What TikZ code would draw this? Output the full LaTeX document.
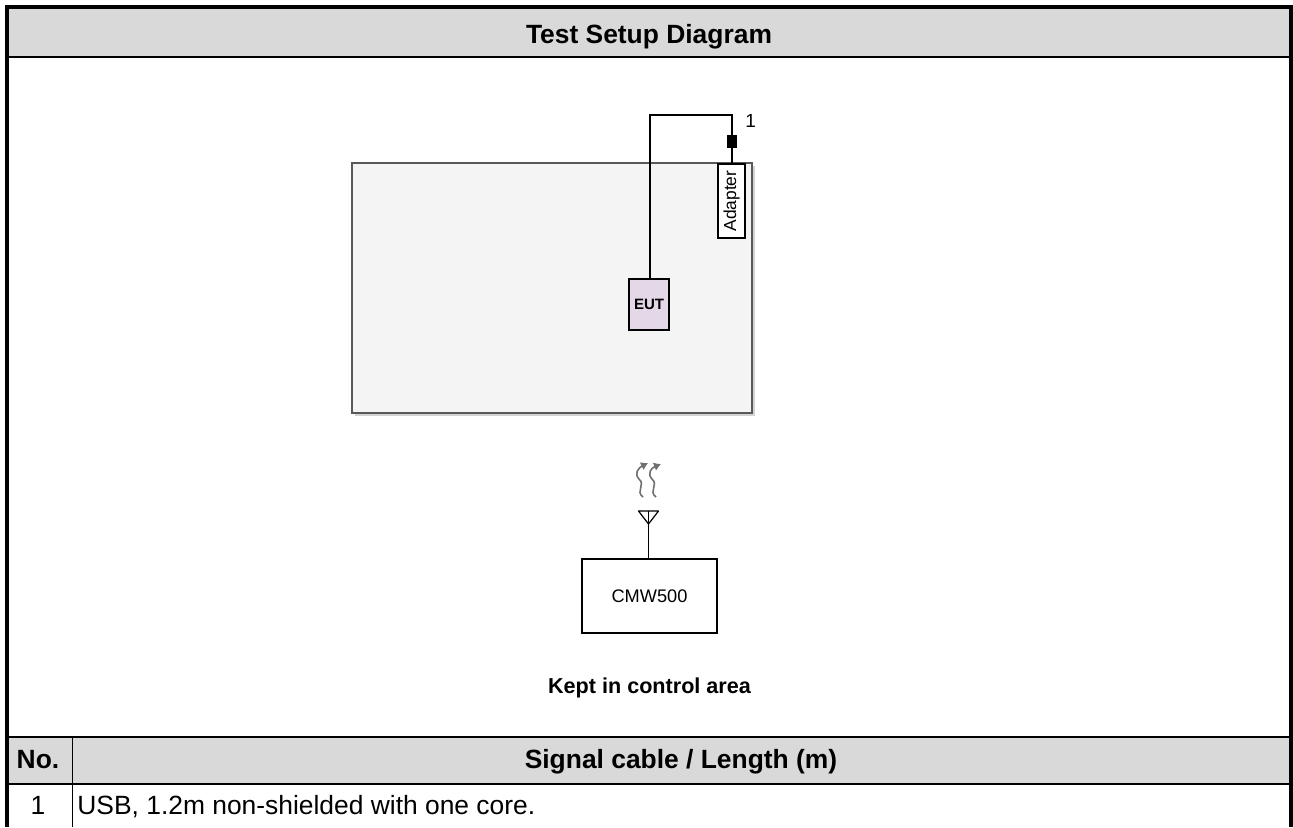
\documentclass[tikz,border=0pt]{standalone}
\usepackage{fontspec}
\setmainfont{Liberation Sans}
\usetikzlibrary{positioning,shadows,arrows.meta}
\tikzset{>=latex}
\definecolor{hdr}{HTML}{D9D9D9}
\definecolor{room}{HTML}{F4F4F4}
\definecolor{eutfill}{HTML}{E4D7E8}
\definecolor{wave}{HTML}{707070}
\newcommand{\tabfont}{\fontsize{13.2}{15}\selectfont}
\tikzstyle{device}=[draw,line width=0.6pt,inner sep=0pt]
\tikzstyle{cable}=[line width=0.6pt]
\tikzstyle{radio}=[wave,line width=0.8pt,-{Latex[length=3.5pt,width=4.5pt]}]

\begin{document}
\begin{tikzpicture}[x=0.5pt,y=-0.5pt]
  \useasboundingbox (0,0) rectangle (1293,827);
  % frame and table
  \fill[hdr] (9,9) rectangle (1289,56);
  \fill[hdr] (9,738) rectangle (1289,783);
  \draw[line width=1pt] (9,57) -- (1289,57);
  \draw[line width=1pt] (9,737) -- (1289,737);
  \draw[line width=1pt] (9,784) -- (1289,784);
  \draw[line width=0.5pt] (72,738) -- (72,827);
  \draw[line width=2pt] (7,827) -- (7,7) -- (1291,7) -- (1291,827);
  \node[anchor=base,font=\tabfont\bfseries] (title) at (649,43) {Test Setup Diagram};
  \node[anchor=base,font=\tabfont\bfseries] (no) at (38,768) {No.};
  \node[anchor=base,font=\tabfont\bfseries] (cablehdr) at (681,768) {Signal cable / Length (m)};
  \node[anchor=base,font=\tabfont] (no1) at (38,814) {1};
  \node[anchor=base west,font=\tabfont,inner xsep=0pt] (cable1) at (77,814) {USB, 1.2m non-shielded with one core.};
  % test room
  \node[draw=black!65,fill=room,line width=0.8pt,minimum width=200pt,minimum height=125pt,
        drop shadow={shadow xshift=1.5pt,shadow yshift=-1.5pt,opacity=0.35}] (room) at (552,288) {};
  \node[device,fill=eutfill,minimum width=20pt,minimum height=25.5pt,font=\fontsize{7.5}{9}\selectfont\bfseries] (EUT) at (649,304.5) {EUT};
  \node[device,fill=white,minimum width=13.5pt,minimum height=37pt] (adapter) at (731.5,201) {};
  \node[rotate=90,font=\fontsize{8.7}{10}\selectfont,inner sep=0pt] (adaptertext) at (adapter.center) {Adapter};
  \node[fill=black,minimum width=5pt,minimum height=6.5pt,inner sep=0pt] (plug) at (732,141.5) {};
  \coordinate (bendL) at (650,115);
  \coordinate (bendR) at (732,115);
  \draw[cable] (EUT.north -| bendL) -- (bendL) -- (bendR) -- (plug.north);
  \draw[cable] (plug.south) -- (adapter.north -| plug.south);
  \node[anchor=west,font=\fontsize{9.5}{11}\selectfont,inner sep=0pt] (lbl1) at (745,121) {1};
  % control area
  \node[device,minimum width=67.5pt,minimum height=37pt,font=\fontsize{9.1}{11}\selectfont] (CMW) at (649.5,596) {CMW500};
  \coordinate (ant) at (648.5,511);
  \draw[cable] (CMW.north -| ant) -- (ant);
  \draw[cable,line join=round] (638.5,511) -- (658.5,511) -- (648.5,524) -- cycle;
  \draw[radio] (643,497) .. controls (635,491) and (646,485) .. (639,479)
                         .. controls (634,474) and (638,468) .. (648,463);
  \draw[radio] (656,497) .. controls (648,491) and (659,485) .. (652,479)
                         .. controls (647,474) and (651,468) .. (661,464);
  \node[below=22pt of CMW,font=\fontsize{10.8}{13}\selectfont\bfseries,inner sep=0pt] (ctrl) {Kept in control area};
\end{tikzpicture}
\end{document}
